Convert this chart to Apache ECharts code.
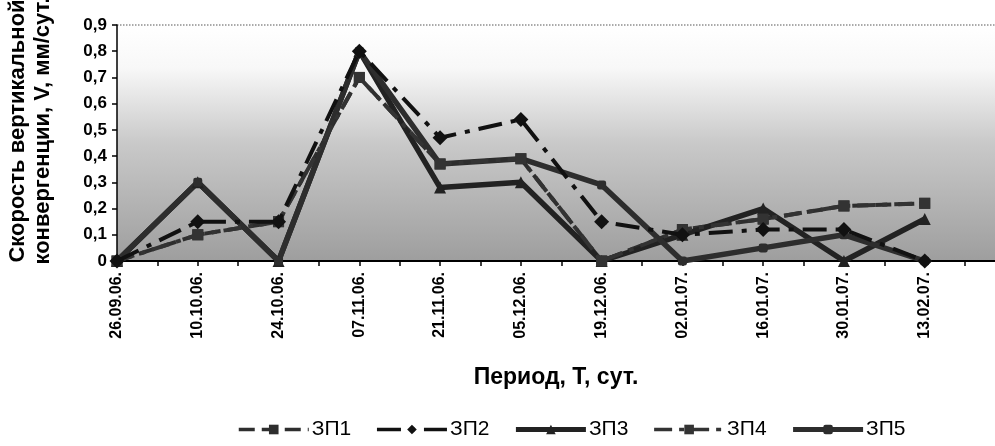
<!DOCTYPE html>
<html>
<head>
<meta charset="utf-8">
<script src="https://cdn.jsdelivr.net/npm/echarts@6/dist/echarts.min.js"></script>
<style>html,body{margin:0;padding:0;background:#fff}#c{width:995px;height:446px}</style>
</head>
<body>
<div id="c"></div>
<script>
const dates = ['26.09.06.', '10.10.06.', '24.10.06.', '07.11.06.', '21.11.06.', '05.12.06.', '19.12.06.', '02.01.07.', '16.01.07.', '30.01.07.', '13.02.07.'];
const seriesNames = ['ЗП1', 'ЗП2', 'ЗП3', 'ЗП4', 'ЗП5'];
const zp1 = [0, 0.1, 0.15, 0.7, 0.37, 0.39, 0, 0.12, 0.16, 0.21, 0.22];
const zp2 = [0, 0.15, 0.15, 0.8, 0.47, 0.54, 0.15, 0.1, 0.12, 0.12, 0];
const zp3 = [0, 0.3, 0, 0.8, 0.28, 0.3, 0, 0.1, 0.2, 0, 0.16];
const zp4 = [0, 0.1, 0.15, 0.7, 0.37, 0.39, 0, 0.12, 0.16, 0.21, 0.22];
const zp5 = [0, 0.3, 0, 0.8, 0.37, 0.39, 0.29, 0, 0.05, 0.1, 0];
const yTicks = [0, 0.1, 0.2, 0.3, 0.4, 0.5, 0.6, 0.7, 0.8, 0.9];

const FONT = 'Liberation Sans, Arial, sans-serif';
const pts = arr => arr.map((v, i) => [i, v]);

const chart = echarts.init(document.getElementById('c'), null, {renderer: 'canvas'});
const splitColors = yTicks.map((t, i) => i === yTicks.length - 1 ? '#8f8f8f' : 'rgba(0,0,0,0)');
const legendWidths = [3.5, 3.5, 5, 3.5, 5];

chart.setOption({
  animation: false,
  grid: {
    left: 117, right: 0, top: 25, bottom: 185,
    containLabel: false, outerBoundsMode: 'none',
    show: true, borderWidth: 0,
    backgroundColor: {
      type: 'linear', x: 0, y: 0, x2: 0, y2: 1,
      colorStops: [
        {offset: 0, color: '#ffffff'},
        {offset: 0.18, color: '#f8f8f8'},
        {offset: 0.5, color: '#c9c9c9'},
        {offset: 1, color: '#9e9e9e'}
      ]
    }
  },
  xAxis: {
    type: 'value', min: 0, max: 10.87, interval: 0.5,
    name: 'Период, Т, сут.', nameLocation: 'middle', nameGap: 105,
    nameTextStyle: {fontFamily: FONT, fontWeight: 'bold', fontSize: 23, color: '#000'},
    axisLine: {show: true, onZero: false, lineStyle: {color: '#000', width: 2}},
    axisTick: {show: true, inside: false, length: 5, lineStyle: {color: '#000', width: 1.5}},
    splitLine: {show: false},
    axisLabel: {
      rotate: 90, margin: 11, showMaxLabel: false,
      fontFamily: FONT, fontWeight: 'bold', fontSize: 16, color: '#000',
      formatter: v => (Number.isInteger(v) && dates[v] !== undefined) ? dates[v] : ''
    }
  },
  yAxis: {
    type: 'value', min: 0, max: 0.9, interval: 0.1,
    name: 'Скорость вертикальной\nконвергенции, V, мм/сут.', nameLocation: 'middle', nameGap: 62,
    nameRotate: 90,
    nameTextStyle: {fontFamily: FONT, fontWeight: 'bold', fontSize: 22, color: '#000', lineHeight: 25, padding: [0, 0, 0, 24]},
    axisLine: {show: true, lineStyle: {color: '#000', width: 1.5}},
    axisTick: {show: true, length: 5, lineStyle: {color: '#000', width: 1.5}},
    splitLine: {show: true, lineStyle: {color: splitColors, type: 'dotted', width: 1.5}},
    axisLabel: {
      margin: 10, fontFamily: FONT, fontWeight: 'bold', fontSize: 17, color: '#000',
      formatter: v => v === 0 ? '0' : v.toFixed(1).replace('.', ',')
    }
  },
  legend: {
    bottom: 1, left: 232, itemWidth: 70, itemHeight: 12, itemGap: 24,
    textStyle: {fontFamily: FONT, fontSize: 21, color: '#000', padding: [0, 0, 0, -2]},
    data: seriesNames.map((n, i) => ({name: n, lineStyle: {width: legendWidths[i]}}))
  },
  series: [
    {name: seriesNames[0], type: 'line', data: pts(zp1), symbol: 'rect', symbolSize: 11, z: 2,
     lineStyle: {color: '#2e2e2e', width: 4, type: [16, 7]}, itemStyle: {color: '#2e2e2e'}},
    {name: seriesNames[2], type: 'line', data: pts(zp3), symbol: 'triangle', symbolSize: 12, z: 3,
     lineStyle: {color: '#222', width: 5.5}, itemStyle: {color: '#222'}},
    {name: seriesNames[4], type: 'line', data: pts(zp5), symbol: 'roundRect', symbolSize: 9, z: 3,
     lineStyle: {color: '#2d2d2d', width: 5.5}, itemStyle: {color: '#2d2d2d'}},
    {name: seriesNames[3], type: 'line', data: pts(zp4), symbol: 'rect', symbolSize: 11, z: 4,
     lineStyle: {color: '#333', width: 4, type: [18, 7, 5, 7]}, itemStyle: {color: '#333'}},
    {name: seriesNames[1], type: 'line', data: pts(zp2), symbol: 'diamond', symbolSize: 15, z: 5,
     lineStyle: {color: '#111', width: 4, type: [24, 9, 5, 9]}, itemStyle: {color: '#111'}}
  ]
});
</script>
</body>
</html>
